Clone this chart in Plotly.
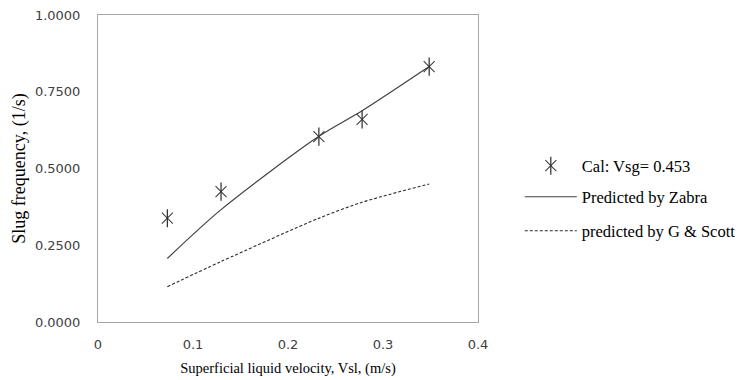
import plotly.graph_objects as go

vsl = [0.073, 0.1295, 0.2325, 0.278, 0.3486]
cal = [0.338, 0.4245, 0.6036, 0.660, 0.8317]
zabra = [0.207, 0.366, 0.605, 0.688, 0.832]
gscott = [0.115, 0.197, 0.338, 0.390, 0.4495]

yticks = [0, 0.25, 0.5, 0.75, 1.0]
xticks = [0, 0.1, 0.2, 0.3, 0.4]
xticktext = ["0", "0.1", "0.2", "0.3", "0.4"]

serif = "Liberation Serif"
sans = "DejaVu Sans"
ink = "#2a2a2a"

fig = go.Figure()
fig.add_trace(go.Scatter(x=vsl, y=cal, mode="markers", name="Cal: Vsg= 0.453", legend="legend",
                         marker=dict(symbol="x-thin-open", size=11, color="#404040",
                                     line=dict(color="#404040", width=1.1))))
fig.add_trace(go.Scatter(x=vsl, y=cal, mode="markers", name=" ", legend="legend4",
                         marker=dict(symbol="line-ns-open", size=13, color=ink,
                                     line=dict(color=ink, width=1.2))))
fig.add_trace(go.Scatter(x=vsl, y=zabra, mode="lines", name="Predicted by Zabra", legend="legend2",
                         line=dict(color="#404040", width=1.2, shape="spline", smoothing=0.8)))
fig.add_trace(go.Scatter(x=vsl, y=gscott, mode="lines", name="predicted by G & Scott", legend="legend3",
                         line=dict(color=ink, width=1.1, dash="3px,2px", shape="spline", smoothing=0.8)))


def leg(ypix):
    return dict(x=1.11, y=(322 - ypix) / 307, xanchor="left", yanchor="middle",
                bgcolor="rgba(0,0,0,0)", itemwidth=52,
                font=dict(family=serif, size=16.5, color="#000000"))


fig.update_layout(
    width=755, height=380,
    margin=dict(l=98, r=277, t=15, b=58),
    paper_bgcolor="white", plot_bgcolor="white",
    showlegend=True,
    legend=leg(166), legend4=leg(166), legend2=leg(197), legend3=leg(231),
    xaxis=dict(range=[0, 0.4], tickvals=xticks, ticktext=xticktext, automargin=False,
               showgrid=False, zeroline=False, showline=True, mirror=True,
               linecolor="#a6a6a6", linewidth=1, ticks="", ticklabelstandoff=10,
               tickfont=dict(family=sans, size=13, color="#404040"),
               title=dict(text="Superficial liquid velocity, Vsl, (m/s)",
                          font=dict(family=serif, size=14.5, color="#000000"), standoff=12)),
    yaxis=dict(range=[0, 1.0], tickvals=yticks, tickformat=".4f", automargin=False,
               showgrid=False, zeroline=False, showline=True, mirror=True,
               linecolor="#a6a6a6", linewidth=1, ticks="", ticklabelstandoff=14,
               tickfont=dict(family=sans, size=13, color="#404040"),
               title=dict(text="Slug frequency, (1/s)",
                          font=dict(family=serif, size=18, color="#000000"), standoff=4)),
)

fig.write_html("out.html")
